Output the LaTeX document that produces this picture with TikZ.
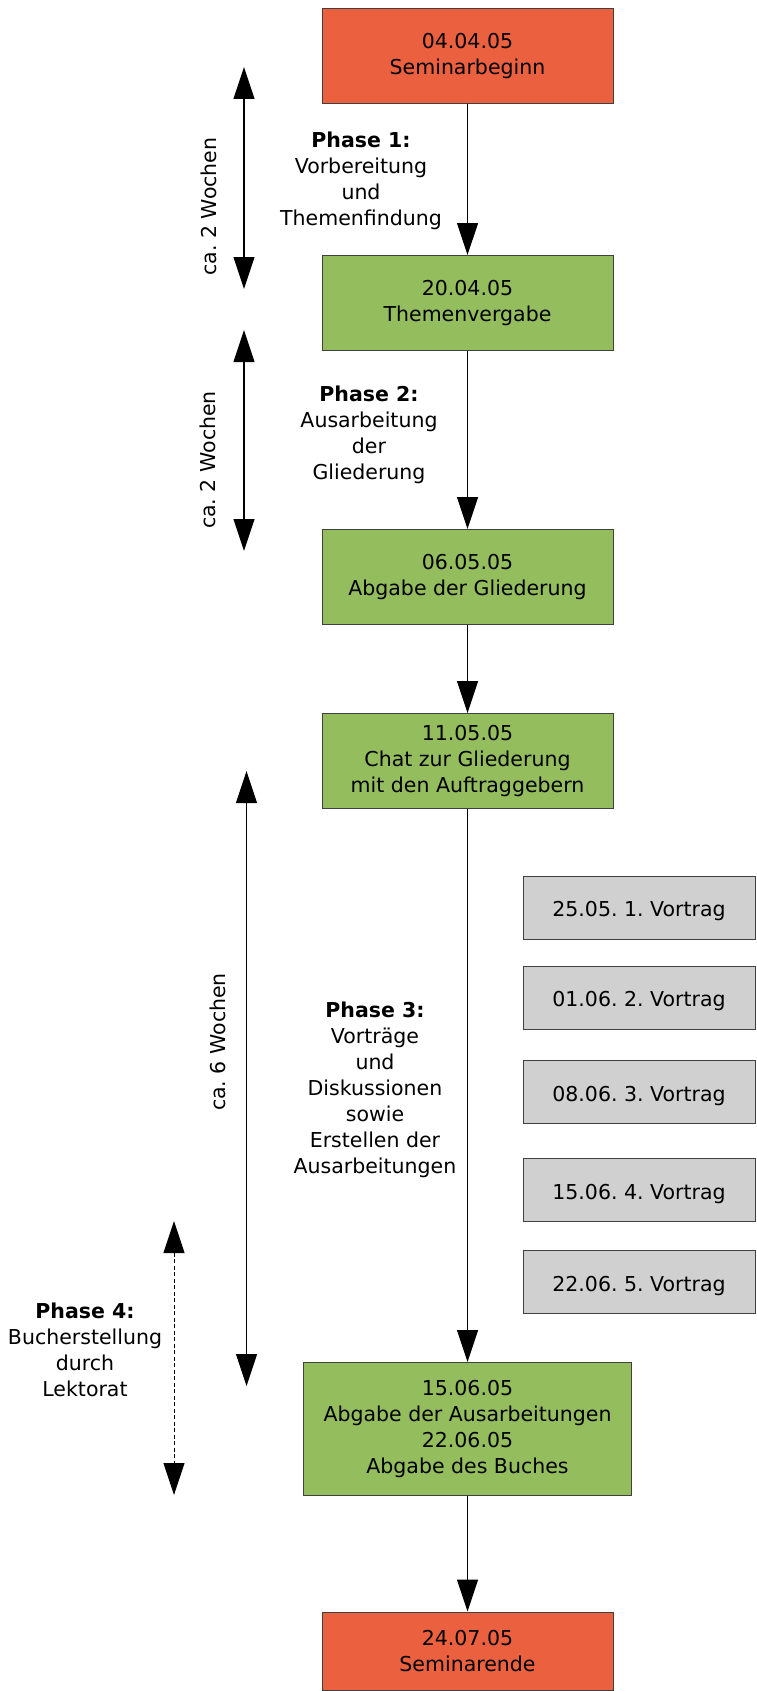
\documentclass[tikz,border=0pt]{standalone}
\usepackage{fontspec}
\setmainfont{DejaVu Sans}
\usepackage{xcolor}
\usepackage{tikz}
\usetikzlibrary{
  arrows.meta,
  positioning
}
\definecolor{startred}{RGB}{235,97,64}
\definecolor{stepgreen}{RGB}{148,189,94}
\definecolor{talkgray}{RGB}{208,208,208}
\definecolor{edgegray}{RGB}{64,64,64}
\frenchspacing

\begin{document}
\begin{tikzpicture}[
  x=1pt, y=-1pt,
  font=\fontsize{20.5}{26}\selectfont,
  box/.style={draw=edgegray, line width=1pt, minimum width=291pt, minimum height=95pt,
              align=center, inner sep=0pt, execute at begin node={\rule{0pt}{21pt}}},
  endbox/.style={box, fill=startred},
  stepbox/.style={box, fill=stepgreen},
  talk/.style={draw=edgegray, line width=1pt, fill=talkgray, minimum width=232pt,
               minimum height=63pt, inner sep=0pt, execute at begin node={\rule{0pt}{23pt}}},
  phase/.style={align=center, inner sep=0pt},
  weeks/.style={rotate=90, inner sep=0pt},
  arr/.style={-{Triangle[length=32pt, width=21pt]}, line width=1.2pt},
  span/.style={{Triangle[length=32pt, width=21pt]}-{Triangle[length=32pt, width=21pt]}, line width=1.2pt}
]
  \useasboundingbox (0,0) rectangle (756,1691);

  % Milestones
  \node[endbox] (start) at (467.5,56) {04.04.05\\Seminarbeginn};
  \node[stepbox] (topics) at (467.5,303) {20.04.05\\Themenvergabe};
  \node[stepbox] (outline) at (467.5,577) {06.05.05\\Abgabe der Gliederung};
  \node[stepbox] (chat) at (467.5,761) {11.05.05\\Chat zur Gliederung\\mit den Auftraggebern};
  \node[stepbox, minimum width=328pt, minimum height=133pt] (papers) at (467.5,1429)
    {15.06.05\\Abgabe der Ausarbeitungen\\22.06.05\\Abgabe des Buches};
  \node[endbox, minimum height=78pt] (finish) at (467.5,1651) {24.07.05\\Seminarende};

  % Talks
  \foreach \i/\y/\dt in {1/907.5/25.05., 2/997.5/01.06., 3/1092/08.06., 4/1190/15.06., 5/1282/22.06.} {
    \node[talk] (talk\i) at (639,\y) {\dt{} \i. Vortrag};
  }

  % Phases
  \node[phase] (ph1) at (361,181) {\textbf{Phase 1:}\\Vorbereitung\\und\\Themenfindung};
  \node[phase] (ph2) at (369,434.5) {\textbf{Phase 2:}\\Ausarbeitung\\der\\Gliederung};
  \node[phase] (ph3) at (375,1090)
    {\textbf{Phase 3:}\\Vorträge\\und\\Diskussionen\\sowie\\Erstellen der\\Ausarbeitungen};
  \node[phase] (ph4) at (85,1349.5) {\textbf{Phase 4:}\\Bucherstellung\\durch\\Lektorat};

  % Durations
  \node[weeks] (w1) at (209,206.5) {ca. 2 Wochen};
  \node[weeks] (w2) at (208,460) {ca. 2 Wochen};
  \node[weeks] (w3) at (218,1042) {ca. 6 Wochen};

  \coordinate (s1a) at (244,67);
  \coordinate (s1b) at (244,289);
  \coordinate (s2a) at (244,330);
  \coordinate (s2b) at (244,551);
  \coordinate (s3a) at (246.5,771);
  \coordinate (s3b) at (246.5,1386);
  \coordinate (s4a) at (174,1221);
  \coordinate (s4b) at (174,1495);

  \draw[span] (s1a) -- (s1b);
  \draw[span] (s2a) -- (s2b);
  \draw[span] (s3a) -- (s3b);
  \draw[span, line width=1pt, dash pattern=on 4pt off 2.5pt] (s4a) -- (s4b);

  % Arrows
  \draw[arr] (start) -- (topics);
  \draw[arr] (topics) -- (outline);
  \draw[arr] (outline) -- (chat);
  \draw[arr] (chat) -- (papers);
  \draw[arr] (papers) -- (finish);
\end{tikzpicture}
\end{document}
